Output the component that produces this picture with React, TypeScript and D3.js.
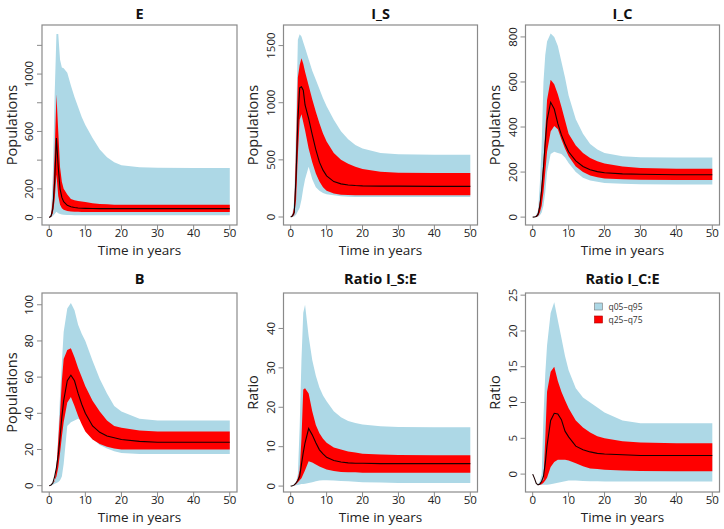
import React from "react";
import * as d3 from "d3";

// ---------- data ----------
const TIME = [0, 0.5, 1, 1.5, 2, 2.5, 3, 3.5, 4, 5, 6, 7, 8, 9, 10, 12, 14, 16, 18, 20, 25, 30, 40, 50];

// E
const E_Q95 = [0, 30, 300, 850, 1280, 1280, 1100, 1045, 1040, 1010, 920, 840, 770, 700, 645, 555, 475, 420, 385, 365, 350, 347, 345, 345];
const E_Q75 = [0, 20, 120, 450, 860, 600, 350, 250, 200, 160, 130, 120, 115, 112, 108, 100, 95, 92, 90, 90, 90, 90, 90, 90];
const E_Q50 = [0, 10, 60, 250, 555, 350, 200, 140, 110, 85, 75, 70, 67, 65, 64, 63, 62, 62, 62, 62, 62, 62, 62, 62];
const E_Q25 = [0, 5, 30, 120, 300, 150, 90, 65, 55, 45, 42, 40, 40, 39, 38, 38, 38, 38, 38, 38, 38, 38, 38, 38];
const E_Q05 = [0, 2, 10, 25, 40, 30, 25, 22, 20, 18, 17, 16, 16, 16, 16, 16, 16, 16, 16, 16, 16, 16, 16, 16];

// I_S
const IS_Q95 = [0, 30, 150, 800, 1550, 1600, 1580, 1530, 1480, 1380, 1280, 1200, 1120, 1040, 970, 850, 750, 680, 630, 600, 560, 548, 545, 545];
const IS_Q75 = [0, 20, 90, 600, 1220, 1330, 1390, 1340, 1270, 1150, 1030, 920, 820, 730, 660, 560, 500, 465, 440, 420, 395, 388, 385, 385];
const IS_Q50 = [0, 10, 40, 350, 850, 1130, 1140, 1110, 980, 860, 720, 590, 480, 410, 360, 310, 290, 280, 275, 272, 270, 270, 268, 268];
const IS_Q25 = [0, 5, 20, 150, 550, 850, 900, 830, 760, 600, 480, 380, 310, 260, 230, 205, 195, 192, 190, 190, 190, 190, 190, 190];
const IS_Q05 = [0, 0, 5, 20, 50, 80, 150, 250, 330, 440, 330, 260, 230, 210, 200, 190, 182, 178, 175, 175, 175, 175, 175, 175];

// I_C
const IC_Q95 = [0, 2, 10, 30, 150, 320, 600, 720, 780, 815, 800, 760, 690, 620, 540, 435, 370, 325, 300, 285, 270, 266, 265, 265];
const IC_Q75 = [0, 1, 5, 20, 70, 150, 250, 380, 520, 610, 590, 545, 490, 430, 370, 318, 285, 263, 248, 238, 225, 218, 215, 215];
const IC_Q50 = [0, 0.5, 3, 12, 50, 120, 220, 330, 430, 510, 480, 415, 365, 325, 290, 250, 225, 210, 202, 197, 192, 190, 188, 188];
const IC_Q25 = [0, 0.2, 1, 5, 20, 50, 110, 200, 290, 380, 405, 390, 345, 305, 270, 225, 200, 185, 177, 172, 168, 166, 165, 165];
const IC_Q05 = [0, 0, 0.5, 2, 8, 20, 50, 110, 200, 280, 290, 285, 280, 265, 240, 200, 175, 163, 157, 152, 148, 146, 145, 145];

// B
const B_Q95 = [0, 0.5, 1.5, 3, 10, 28, 50, 68, 85, 98, 101, 97, 89, 84, 80, 69, 59, 51, 44, 41, 37, 36, 36, 36];
const B_Q75 = [0, 0.3, 1, 2.5, 10, 25, 40, 58, 70, 75, 76, 71, 65, 60, 55, 47, 41, 36, 33, 32, 30.5, 30, 30, 30];
const B_Q50 = [0, 0.3, 1.5, 5, 10, 17, 27, 38, 47, 58, 61, 58, 51, 45, 40, 33, 29.5, 27.5, 26.5, 25.5, 24.5, 24, 24, 24];
const B_Q25 = [0, 0.2, 1, 3, 5, 10, 18, 27, 35, 46, 49, 44, 38.5, 34, 30, 25.5, 23, 21.5, 20.5, 20, 20, 20, 20, 20];
const B_Q05 = [0, 0.1, 0.5, 1, 1.5, 2, 3, 5, 12, 33, 35, 36, 37, 36, 32, 26, 22.5, 20.5, 19, 18, 17.5, 17.5, 17.5, 17.5];

// Ratio I_S:E
const RS_Q95 = [0, 0.1, 0.3, 1, 3, 15, 32, 44, 46, 38, 32, 28, 25, 23, 21.5, 19, 17.5, 16.5, 16, 15.6, 15.2, 15, 14.9, 14.9];
const RS_Q75 = [0, 0.1, 0.3, 0.8, 2, 4, 12, 24.5, 24.8, 23.5, 19, 15.5, 13.4, 12, 11, 9.8, 9.3, 8.8, 8.5, 8.2, 8, 7.9, 7.8, 7.8];
const RS_Q50 = [0, 0.1, 0.3, 0.8, 1.5, 2.5, 5.5, 8.5, 11, 14.6, 13, 11, 9.2, 8.2, 7.3, 6.5, 6.1, 5.9, 5.8, 5.8, 5.7, 5.7, 5.7, 5.7];
const RS_Q25 = [0, 0.1, 0.2, 0.5, 1, 1.5, 2, 3, 4, 6.3, 6, 5.5, 5, 4.6, 4.2, 3.8, 3.6, 3.5, 3.5, 3.4, 3.4, 3.4, 3.4, 3.4];
const RS_Q05 = [0, 0, 0.1, 0.2, 0.3, 0.4, 0.5, 0.5, 0.6, 0.8, 1.0, 1.2, 1.4, 1.5, 1.5, 1.4, 1.3, 1.2, 1.1, 1.0, 0.9, 0.8, 0.8, 0.8];

// Ratio I_C:E
const RC_Q95 = [0, -0.6, -1.3, -1.4, -1.0, 0, 8, 14, 18, 22.5, 24, 21.5, 19, 16.5, 14.5, 12, 10.7, 10, 9.3, 8.6, 7.5, 7.1, 7.1, 7.1];
const RC_Q75 = [0, -0.6, -1.3, -1.5, -1.3, -1.0, -0.8, 5, 11.5, 14.3, 15, 13, 11.5, 10.3, 9.2, 7.5, 6.5, 5.8, 5.3, 5.0, 4.6, 4.4, 4.3, 4.3];
const RC_Q50 = [0, -0.6, -1.3, -1.5, -1.4, -1.0, -0.3, 1.5, 4, 7.5, 8.5, 8.4, 7.6, 6.0, 5.2, 3.9, 3.4, 3.1, 2.9, 2.8, 2.7, 2.6, 2.6, 2.6];
const RC_Q25 = [0, -0.6, -1.3, -1.5, -1.5, -1.4, -1.2, -0.9, -0.5, 1.0, 1.7, 2.0, 2.0, 2.0, 1.9, 1.5, 1.1, 0.8, 0.7, 0.6, 0.5, 0.45, 0.4, 0.4];
const RC_Q05 = [0, -0.6, -1.3, -1.5, -1.5, -1.5, -1.5, -1.5, -1.5, -1.4, -1.3, -1.2, -1.1, -1.0, -0.9, -0.9, -0.95, -1.0, -1.0, -1.05, -1.05, -1.05, -1.05, -1.05];

const X_TICKS = [0, 10, 20, 30, 40, 50];
const E_TICKS = [0, 200, 400, 600, 800, 1000, 1200];
const E_LABELED = [0, 200, 600, 1000];
const IS_TICKS = [0, 500, 1000, 1500];
const IC_TICKS = [0, 200, 400, 600, 800];
const B_TICKS = [0, 20, 40, 60, 80, 100];
const RS_TICKS = [0, 10, 20, 30, 40];
const RC_TICKS = [0, 5, 10, 15, 20, 25];

const TITLES = ["E", "I_S", "I_C", "B", "Ratio I_S:E", "Ratio I_C:E"];
const YLABS = ["Populations", "Populations", "Populations", "Populations", "Ratio", "Ratio"];
const LEGEND_LABELS = ["q05–q95", "q25–q75"];

// ---------- layout ----------
const W = 724;
const H = 529;
const COL_LEFT = [42, 283.5, 525.5];
const COL_W = [195, 194, 194];
const ROW_TOP = [25, 293];
const ROW_H = [200, 199];
const BLUE = "#add8e6";
const RED = "#ff0000";
const FONT = "'Open Sans', 'Noto Sans', sans-serif";

const panels = [
  { q: [E_Q05, E_Q25, E_Q50, E_Q75, E_Q95], dom: [-52, 1342], ticks: E_TICKS, labeled: E_LABELED },
  { q: [IS_Q05, IS_Q25, IS_Q50, IS_Q75, IS_Q95], dom: [-70, 1680], ticks: IS_TICKS, labeled: IS_TICKS },
  { q: [IC_Q05, IC_Q25, IC_Q50, IC_Q75, IC_Q95], dom: [-35, 853], ticks: IC_TICKS, labeled: IC_TICKS },
  { q: [B_Q05, B_Q25, B_Q50, B_Q75, B_Q95], dom: [-3.5, 106.5], ticks: B_TICKS, labeled: B_TICKS },
  { q: [RS_Q05, RS_Q25, RS_Q50, RS_Q75, RS_Q95], dom: [-1.5, 49], ticks: RS_TICKS, labeled: RS_TICKS },
  { q: [RC_Q05, RC_Q25, RC_Q50, RC_Q75, RC_Q95], dom: [-2.5, 25.3], ticks: RC_TICKS, labeled: RC_TICKS },
];

function Panel({ idx }: { idx: number }) {
  const p = panels[idx];
  const col = idx % 3;
  const row = Math.floor(idx / 3);
  const left = COL_LEFT[col];
  const top = ROW_TOP[row];
  const w = COL_W[col];
  const h = ROW_H[row];
  const x = d3.scaleLinear().domain([-2, 52]).range([left, left + w]);
  const y = d3.scaleLinear().domain(p.dom).range([top + h, top]);
  const [q05, q25, q50, q75, q95] = p.q;

  const band = (lo: number[], hi: number[]) =>
    d3
      .area<number>()
      .x((_, i) => x(TIME[i]))
      .y0((_, i) => y(lo[i]))
      .y1((_, i) => y(hi[i]))(TIME) || "";
  const line =
    d3
      .line<number>()
      .x((_, i) => x(TIME[i]))
      .y((_, i) => y(q50[i]))(TIME) || "";

  const textColor = "#222";
  const axisColor = "#8a8a8a";
  const cx = left + w / 2;
  const cy = top + h / 2;

  return (
    <g>
      <path d={band(q05, q95)} fill={BLUE} stroke="none" />
      <path d={band(q25, q75)} fill={RED} stroke="none" />
      <path d={line} fill="none" stroke="#1a0000" strokeWidth={1.1} />
      <rect x={left} y={top} width={w} height={h} fill="none" stroke={axisColor} strokeWidth={1.2} />
      {/* x axis */}
      {X_TICKS.map((t) => (
        <g key={"x" + t}>
          <line x1={x(t)} x2={x(t)} y1={top + h} y2={top + h + 5} stroke={axisColor} strokeWidth={1} />
          <text
            x={x(t)}
            y={top + h + 7.5}
            fontSize={11.5}
            fill={textColor}
            textAnchor="middle"
            dominantBaseline="central"
            fontFamily={FONT}
          >
            {t}
          </text>
        </g>
      ))}
      {/* y axis */}
      {p.ticks.map((t) => (
        <g key={"y" + t}>
          <line x1={left - 5} x2={left} y1={y(t)} y2={y(t)} stroke={axisColor} strokeWidth={1} />
          {p.labeled.includes(t) && (
            <text
              x={left - 13}
              y={y(t)}
              fontSize={11.5}
              fill={textColor}
              textAnchor="middle"
              dominantBaseline="central"
              fontFamily={FONT}
              transform={`rotate(-90 ${left - 13} ${y(t)})`}
            >
              {t}
            </text>
          )}
        </g>
      ))}
      <text
        x={cx}
        y={top + h + 25}
        fontSize={13.5}
        fill={textColor}
        textAnchor="middle"
        dominantBaseline="central"
        fontFamily={FONT}
      >
        Time  in years
      </text>
      <text
        x={left - 31}
        y={cy}
        fontSize={14.5}
        fill={textColor}
        textAnchor="middle"
        dominantBaseline="central"
        fontFamily={FONT}
        transform={`rotate(-90 ${left - 31} ${cy})`}
      >
        {YLABS[idx]}
      </text>
      <text
        x={cx}
        y={top - (row === 0 ? 12 : 15)}
        fontSize={14.5}
        fontWeight="bold"
        fill="#111"
        textAnchor="middle"
        dominantBaseline="central"
        fontFamily={FONT}
      >
        {TITLES[idx]}
      </text>
      {idx === 5 && (
        <g>
          {[BLUE, RED].map((c, i) => (
            <g key={c}>
              <rect
                x={left + 69}
                y={top + 10 + i * 13}
                width={8}
                height={7}
                fill={c}
                stroke={i === 0 ? "#777" : "#a00"}
                strokeWidth={0.6}
              />
              <text
                x={left + 83}
                y={top + 13.5 + i * 13}
                fontSize={8.5}
                fill="#333"
                dominantBaseline="central"
                fontFamily={FONT}
              >
                {LEGEND_LABELS[i]}
              </text>
            </g>
          ))}
        </g>
      )}
    </g>
  );
}

export default function App() {
  return (
    <svg
      width={W}
      height={H}
      viewBox={`0 0 ${W} ${H}`}
      style={{ position: "absolute", left: 0, top: 0, background: "#fff" }}
    >
      <rect x={0} y={0} width={W} height={H} fill="#fff" />
      {panels.map((_, i) => (
        <Panel key={i} idx={i} />
      ))}
    </svg>
  );
}
